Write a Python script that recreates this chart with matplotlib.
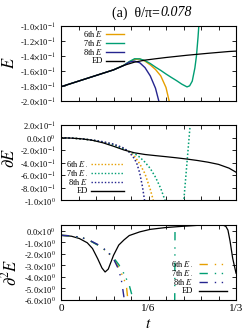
import math

import matplotlib
matplotlib.use("Agg")
import matplotlib.pyplot as plt
from matplotlib.ticker import FixedLocator, FuncFormatter

plt.rcParams["font.family"] = ["Liberation Serif", "DejaVu Serif"]
plt.rcParams["mathtext.fontset"] = "stix"

# ---- top panel: E ----
t_ed = [0, 0.02, 0.04, 0.06, 0.08, 0.10, 0.12, 0.14, 0.16, 0.18, 0.20, 0.22,
        0.24, 0.26, 0.28, 0.30, 0.32, 1 / 3]
E_ed = [-0.1810, -0.1765, -0.1720, -0.1675, -0.1630, -0.1585, -0.1525, -0.1482,
        -0.1455, -0.1437, -0.1420, -0.1405, -0.1390, -0.1377, -0.1364, -0.1352,
        -0.1340, -0.1335]

t_E6 = [0, 0.02, 0.04, 0.06, 0.08, 0.10, 0.12, 0.13, 0.14, 0.15, 0.16, 0.17,
        0.18, 0.19, 0.20, 0.206, 0.21]
E6 = [-0.1810, -0.1765, -0.1720, -0.1675, -0.1630, -0.1585, -0.1522, -0.1478,
      -0.1445, -0.1440, -0.1468, -0.1518, -0.1580, -0.1665, -0.1820, -0.2000, -0.2150]
t_E7 = [0, 0.02, 0.04, 0.06, 0.08, 0.10, 0.12, 0.13, 0.14, 0.15, 0.16, 0.17,
        0.18, 0.19, 0.20, 0.21, 0.22, 0.23, 0.24, 0.245, 0.25, 0.255, 0.258,
        0.261, 0.264]
E7 = [-0.1810, -0.1765, -0.1720, -0.1675, -0.1630, -0.1585, -0.1522, -0.1475,
      -0.1437, -0.1438, -0.1462, -0.1500, -0.1548, -0.1592, -0.1640, -0.1685,
      -0.1728, -0.1775, -0.1812, -0.1798, -0.1735, -0.1560, -0.1400, -0.1150, -0.0850]
t_E8 = [0, 0.02, 0.04, 0.06, 0.08, 0.10, 0.12, 0.13, 0.14, 0.15, 0.16, 0.17,
        0.18, 0.19]
E8 = [-0.1810, -0.1765, -0.1720, -0.1675, -0.1630, -0.1585, -0.1525, -0.1482,
      -0.1468, -0.1490, -0.1555, -0.1665, -0.1830, -0.2100]

# ---- middle panel: dE ----
dE_ed = [-0.005, -0.010, -0.022, -0.045, -0.085, -0.140, -0.200, -0.245, -0.272,
         -0.290, -0.307, -0.325, -0.345, -0.368, -0.395, -0.430, -0.490, -0.555]
t_d6 = [0, 0.02, 0.04, 0.06, 0.08, 0.10, 0.12, 0.13, 0.14, 0.15, 0.16, 0.17,
        0.175, 0.18]
dE6 = [-0.005, -0.010, -0.022, -0.042, -0.072, -0.112, -0.178, -0.228, -0.300,
       -0.420, -0.580, -0.830, -0.980, -1.150]
t_d7 = [0, 0.02, 0.04, 0.06, 0.08, 0.10, 0.12, 0.13, 0.14, 0.15, 0.16, 0.17,
        0.18, 0.19, 0.20, 0.21, 0.22, 0.23, 0.234, 0.24, 0.246, 0.25]
dE7 = [-0.005, -0.010, -0.022, -0.042, -0.074, -0.118, -0.185, -0.225, -0.258,
       -0.315, -0.395, -0.495, -0.635, -0.815, -1.050, -1.300, -1.420, -1.300,
       -1.000, -0.400, 0.200, 0.700]
t_d8 = [0, 0.02, 0.04, 0.06, 0.08, 0.10, 0.12, 0.13, 0.14, 0.145, 0.15, 0.155,
        0.16, 0.165]
dE8 = [-0.005, -0.010, -0.022, -0.040, -0.068, -0.105, -0.170, -0.235, -0.340,
       -0.430, -0.570, -0.780, -1.050, -1.350]

# ---- bottom panel: d2E ----
t_ed2 = [0, 0.02, 0.035, 0.05, 0.06, 0.07, 0.078, 0.084, 0.09, 0.10, 0.11, 0.12,
         0.13, 0.15, 0.17, 0.20, 0.23, 0.26, 0.28, 0.30, 0.308, 0.314, 0.318,
         0.322, 0.327, 1 / 3]
d2E_ed = [-0.40, -0.48, -0.68, -1.05, -1.55, -2.45, -3.25, -3.60, -3.35, -2.15,
          -1.25, -0.80, -0.42, -0.10, 0.12, 0.28, 0.38, 0.47, 0.52, 0.55, 0.50,
          0.38, 0.05, -0.90, -2.40, -3.70]
t_dd6 = [0, 0.02, 0.04, 0.055, 0.07, 0.08, 0.09, 0.10, 0.11, 0.12, 0.125, 0.128]
d2E6 = [-0.40, -0.45, -0.60, -0.87, -1.25, -1.55, -1.95, -2.45, -3.20, -4.20,
        -5.00, -6.30]
t_dd7 = [0, 0.02, 0.04, 0.055, 0.07, 0.08, 0.09, 0.10, 0.11, 0.12, 0.13, 0.135,
         0.14, 0.17, 0.21, 0.2166, 0.2172, 0.218]
d2E7 = [-0.40, -0.45, -0.60, -0.87, -1.25, -1.55, -1.90, -2.35, -2.95, -3.75,
        -4.75, -5.60, -6.60, -20.0, -15.0, -6.50, 0.60, 3.00]
t_dd8 = [0, 0.02, 0.04, 0.055, 0.07, 0.08, 0.09, 0.10, 0.11, 0.115, 0.118, 0.122]
d2E8 = [-0.40, -0.45, -0.60, -0.85, -1.20, -1.50, -1.90, -2.45, -3.40, -4.30,
        -5.20, -6.50]

orange, green, blue = "#E69F00", "#009E73", "#25258F"
dotted = (0, (1.0, 1.4))
dashdot = (0, (6, 5, 1, 4, 1, 5))

W, H = 249, 331
fig = plt.figure(figsize=(W / 100, H / 100), dpi=100)
ax1 = fig.add_axes([61 / W, 1 - 101 / H, 175 / W, 75 / H])
ax2 = fig.add_axes([61 / W, 1 - 200 / H, 175 / W, 75 / H])
ax3 = fig.add_axes([61 / W, 1 - 299.5 / H, 175 / W, 74.5 / H])


def sci(v, pos):
    v = float(f"{v:.10g}")
    if v == 0:
        return r"0.0$\times$10$^{0}$"
    e = math.floor(math.log10(abs(v)))
    m = v / 10 ** e
    return f"{m:.1f}" + r"$\times$10$^{%d}$" % e


def tlab(v, pos):
    return {0: "0", 5: "1/6", 10: "1/3"}.get(int(round(v * 30)), "")


xt = [i / 30 for i in range(11)]
for ax in (ax1, ax2, ax3):
    ax.set_xlim(0, 1 / 3)
    ax.xaxis.set_major_locator(FixedLocator(xt))
    ax.xaxis.set_major_formatter(FuncFormatter(tlab))
    ax.yaxis.set_major_formatter(FuncFormatter(sci))
    ax.tick_params(direction="in", top=True, right=True, length=3.2, width=0.6,
                   labelsize=6)
    ax.tick_params(axis="y", pad=4)
    ax.tick_params(axis="x", pad=3, labelsize=8)
    for s in ax.spines.values():
        s.set_linewidth(0.8)
ax1.tick_params(labelbottom=False)
ax2.tick_params(labelbottom=False)

# top
ax1.plot(t_E6, E6, color=orange, lw=1.0)
ax1.plot(t_E7, E7, color=green, lw=1.0)
ax1.plot(t_E8, E8, color=blue, lw=1.0)
ax1.plot(t_ed, E_ed, color="black", lw=0.9)
ax1.set_ylim(-0.2, -0.1)
ax1.yaxis.set_major_locator(FixedLocator([-0.20, -0.18, -0.16, -0.14, -0.12, -0.10]))

# middle
ax2.plot(t_d6, dE6, color=orange, lw=1.1, ls=dotted)
ax2.plot(t_d7, dE7, color=green, lw=1.1, ls=dotted)
ax2.plot(t_d8, dE8, color=blue, lw=1.1, ls=dotted)
ax2.plot(t_ed, dE_ed, color="black", lw=0.9)
ax2.set_ylim(-1.0, 0.2)
ax2.yaxis.set_major_locator(FixedLocator([-1.0, -0.8, -0.6, -0.4, -0.2, 0.0, 0.2]))

# bottom
ax3.plot(t_ed2, d2E_ed, color="black", lw=0.9)
ax3.plot(t_dd6, d2E6, color=orange, lw=1.0, ls=dashdot)
ax3.plot(t_dd7, d2E7, color=green, lw=1.0, ls=dashdot)
ax3.plot(t_dd8, d2E8, color=blue, lw=1.0, ls=dashdot)
ax3.set_ylim(-6.0, 0.5)
ax3.yaxis.set_major_locator(FixedLocator([-6, -5, -4, -3, -2, -1, 0]))


def key(ax, rows, xtext, x0, x1, ys, size=6):
    # gnuplot-like key: label right-aligned, sample line to its right
    for (label, mark, color, ls), y in zip(rows, ys):
        ax.plot([x0, x1], [y, y], transform=ax.transAxes, color=color, ls=ls,
                lw=1.0, clip_on=False)
        shift = 0.012 if mark else 0.0
        ax.text(xtext - shift, y, label, transform=ax.transAxes, ha="right",
                va="center", fontsize=size)
        if mark:
            ax.text(xtext - shift, y - 0.01, ",", transform=ax.transAxes,
                    ha="left", va="center", fontsize=3.5)


key(ax1, [("6th $E$", False, orange, "-"), ("7th $E$", False, green, "-"),
          ("8th $E$", False, blue, "-"), ("ED", False, "black", "-")],
    0.24, 0.257, 0.36, [0.893, 0.773, 0.653, 0.533])
key(ax2, [("6th $E$", True, orange, dotted), ("7th $E$", True, green, dotted),
          ("8th $E$", False, blue, dotted), ("ED", False, "black", "-")],
    0.154, 0.171, 0.36, [0.48, 0.36, 0.24, 0.12])
key(ax3, [("6th $E$", True, orange, dashdot), ("7th $E$", True, green, dashdot),
          ("8th $E$", False, blue, dashdot), ("ED", False, "black", "-")],
    0.754, 0.789, 0.949, [0.477, 0.356, 0.235, 0.114])

ax1.set_ylabel("$E$", fontsize=12)
ax1.yaxis.set_label_coords(-0.29, 0.513)
ax2.set_ylabel(r"$\partial E$", fontsize=12)
ax2.yaxis.set_label_coords(-0.29, 0.567)
ax3.set_ylabel(r"$\partial^2 E$", fontsize=12)
ax3.yaxis.set_label_coords(-0.29, 0.37)
for ax in (ax1, ax2, ax3):
    ax.yaxis.label.set_va("center")

ax3.set_xlabel("$t$", fontsize=11)
ax3.xaxis.set_label_coords(0.5, -0.342)
ax3.xaxis.label.set_va("center")

# title: upright part, then the italic value
fig.text(160 / W, 1 - 13 / H, "(a)  θ/π=", ha="right", va="center", fontsize=10)
fig.text(160 / W, 1 - 13 / H, "0.078", ha="left", va="center", fontsize=10,
         style="italic")

fig.savefig("out.png", dpi=100)
